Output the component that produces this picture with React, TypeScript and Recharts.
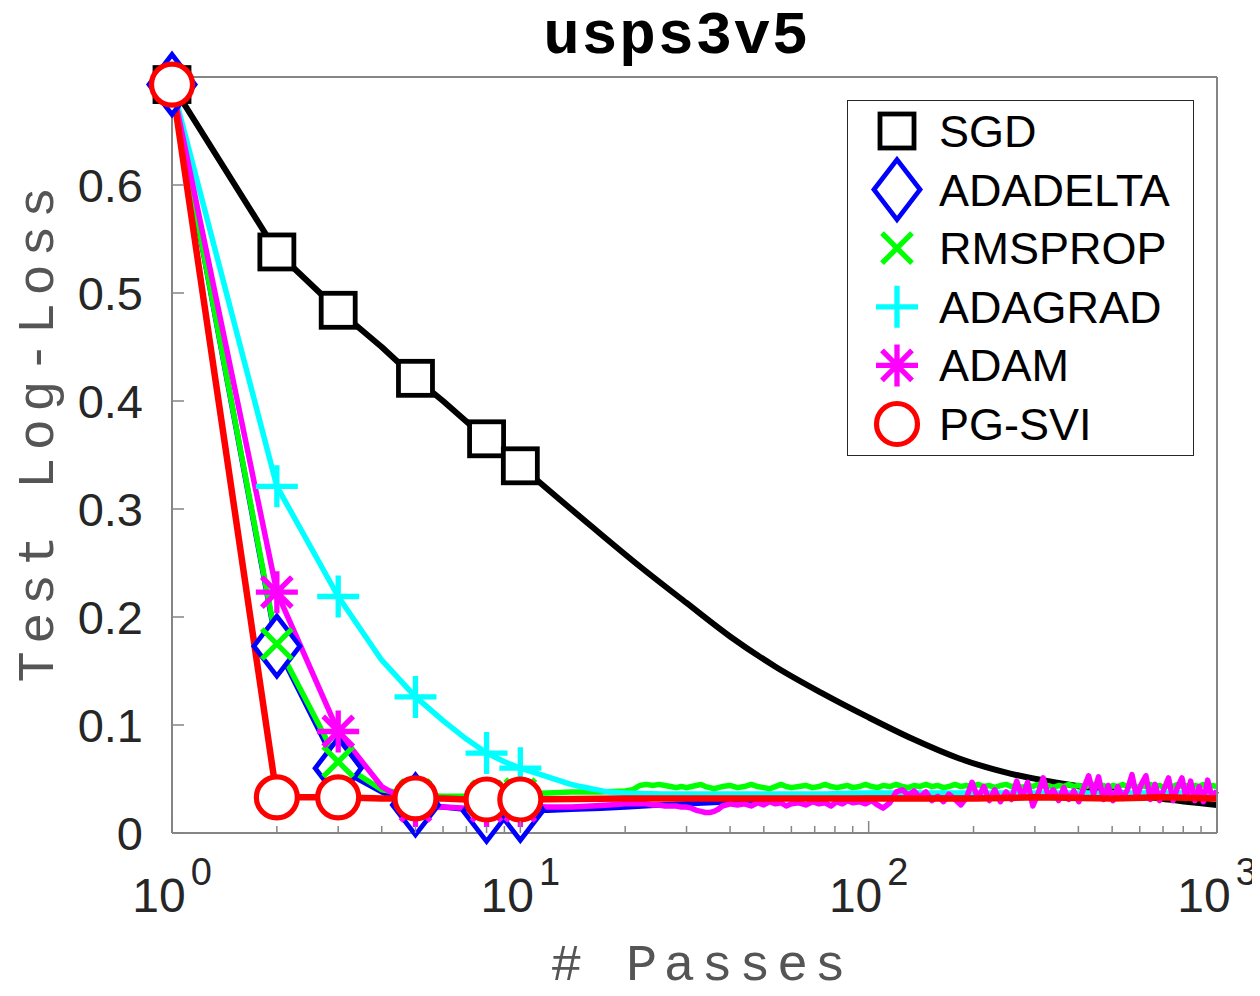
import React from 'react';
import { LineChart, Line, XAxis, YAxis, Legend } from 'recharts';

// ---------- data ----------
const MARKER_PASSES = [1, 2, 3, 5, 8, 10];
const X_MAJOR = [1, 10, 100, 1000];
const X_MINOR = [2, 3, 4, 5, 6, 7, 8, 9, 20, 30, 40, 50, 60, 70, 80, 90, 200, 300, 400, 500, 600, 700, 800, 900];
const Y_TICKS = [0, 0.1, 0.2, 0.3, 0.4, 0.5, 0.6];

// SGD: passes 1..10 (with markers), then smooth decay to 1000
const SGD_HEAD_X = [1, 2, 3, 4, 5, 6, 7, 8, 9, 10];
const SGD_HEAD_Y = [0.693, 0.538, 0.484, 0.45, 0.421, 0.4, 0.381, 0.365, 0.352, 0.34];
const SGD_TAIL_X = [10, 16, 22, 30, 40, 54, 73, 100, 134, 182, 255, 354, 493, 687, 1000];
const SGD_TAIL_Y = [0.34, 0.284, 0.247, 0.213, 0.182, 0.154, 0.13, 0.107, 0.087, 0.069, 0.055, 0.046, 0.039, 0.032, 0.026];

const ADADELTA_X = [1, 2, 3, 4, 5, 6, 7, 8, 9, 10, 12, 14, 17, 20, 25, 30, 40, 50, 60, 70, 80, 100, 150, 200, 300, 500, 700, 1000];
const ADADELTA_Y = [0.693, 0.173, 0.06, 0.038, 0.026, 0.024, 0.022, 0.02, 0.02, 0.021, 0.021, 0.022, 0.023, 0.024, 0.026, 0.027, 0.029, 0.031, 0.033, 0.034, 0.035, 0.035, 0.035, 0.034, 0.035, 0.035, 0.034, 0.035];

const TAIL_PASSES = [
  22, 23, 24, 25, 26, 27, 28, 29, 30, 31,
  32, 33, 34, 35, 36, 37, 38, 40, 42, 44,
  46, 48, 50, 52, 54, 56, 58, 60, 63, 66,
  69, 72, 75, 78, 81, 84, 87, 90, 94, 98,
  102, 106, 110, 115, 120, 125, 130, 135, 140, 146,
  152, 158, 164, 170, 177, 184, 191, 198, 206, 214,
  222, 230, 239, 248, 257, 266, 276, 286, 296, 306,
  317, 328, 339, 351, 363, 375, 388, 401, 414, 428,
  442, 457, 472, 487, 503, 519, 536, 553, 570, 588,
  606, 625, 644, 664, 684, 705, 726, 748, 770, 793,
  816, 840, 864, 889, 914, 940, 967, 1000,
];

const RMSPROP_HEAD_X = [1, 2, 3, 4, 5, 6, 7, 8, 9, 10, 12, 14, 17, 20, 21];
const RMSPROP_HEAD_Y = [0.693, 0.175, 0.066, 0.04, 0.035, 0.034, 0.034, 0.034, 0.035, 0.036, 0.037, 0.038, 0.038, 0.039, 0.04];
const RMSPROP_TAIL_Y = [
  0.044, 0.045, 0.044, 0.045, 0.044, 0.043, 0.042, 0.043, 0.042, 0.043,
  0.044, 0.045, 0.043, 0.042, 0.041, 0.042, 0.043, 0.044, 0.042, 0.043,
  0.045, 0.043, 0.042, 0.041, 0.043, 0.045, 0.043, 0.042, 0.043, 0.044,
  0.042, 0.043, 0.045, 0.043, 0.042, 0.043, 0.044, 0.042, 0.043, 0.045,
  0.043, 0.042, 0.044, 0.043, 0.045, 0.043, 0.042, 0.044, 0.043, 0.045,
  0.043, 0.044, 0.042, 0.043, 0.045, 0.043, 0.044, 0.043, 0.045, 0.043,
  0.044, 0.042, 0.044, 0.045, 0.043, 0.044, 0.042, 0.044, 0.043, 0.045,
  0.043, 0.044, 0.042, 0.044, 0.043, 0.045, 0.043, 0.044, 0.042, 0.044,
  0.045, 0.043, 0.044, 0.042, 0.044, 0.043, 0.045, 0.043, 0.044, 0.042,
  0.044, 0.043, 0.045, 0.043, 0.044, 0.042, 0.044, 0.043, 0.045, 0.043,
  0.044, 0.042, 0.044, 0.043, 0.045, 0.043, 0.044, 0.043,
];

const ADAGRAD_HEAD_X = [1, 2, 3, 4, 5, 6, 7, 8, 9, 10];
const ADAGRAD_HEAD_Y = [0.693, 0.321, 0.219, 0.16, 0.126, 0.104, 0.087, 0.074, 0.066, 0.06];
const ADAGRAD_TAIL_X = [10, 12, 14, 16, 18, 22, 30, 40, 70, 100, 200, 500, 1000];
const ADAGRAD_TAIL_Y = [0.06, 0.052, 0.045, 0.041, 0.038, 0.0365, 0.036, 0.036, 0.036, 0.037, 0.037, 0.037, 0.037];

const ADAM_HEAD_X = [1, 2, 3, 4, 5, 6, 7, 8, 9, 10, 12, 14, 16, 18, 20];
const ADAM_HEAD_Y = [0.693, 0.223, 0.094, 0.043, 0.025, 0.024, 0.023, 0.025, 0.025, 0.025, 0.024, 0.024, 0.025, 0.026, 0.027];
const ADAM_TAIL_Y = [
  0.027, 0.027, 0.026, 0.026, 0.025, 0.025, 0.025, 0.024, 0.024, 0.023,
  0.021, 0.02, 0.019, 0.019, 0.02, 0.022, 0.025, 0.027, 0.026, 0.027,
  0.025, 0.028, 0.026, 0.029, 0.027, 0.028, 0.025, 0.027, 0.028, 0.026,
  0.029, 0.027, 0.028, 0.025, 0.029, 0.027, 0.03, 0.028, 0.029, 0.027,
  0.03, 0.026, 0.023, 0.028, 0.038, 0.04, 0.035, 0.039, 0.033, 0.038,
  0.03, 0.034, 0.029, 0.036, 0.031, 0.026, 0.033, 0.047, 0.032, 0.043,
  0.03, 0.04, 0.029, 0.038, 0.031, 0.048, 0.033, 0.047, 0.025, 0.036,
  0.051, 0.034, 0.04, 0.03, 0.042, 0.031, 0.039, 0.029, 0.041, 0.053,
  0.036, 0.052, 0.031, 0.044, 0.03, 0.043, 0.032, 0.04, 0.054, 0.033,
  0.045, 0.053, 0.031, 0.045, 0.03, 0.041, 0.051, 0.03, 0.042, 0.051,
  0.032, 0.048, 0.03, 0.043, 0.029, 0.049, 0.033, 0.039,
];

const PGSVI_X = [1, 2, 3, 4, 5, 6, 7, 8, 9, 10, 20, 50, 100, 200, 300, 500, 700, 1000];
const PGSVI_Y = [0.693, 0.033, 0.033, 0.032, 0.032, 0.032, 0.031, 0.031, 0.031, 0.031, 0.032, 0.032, 0.032, 0.032, 0.033, 0.032, 0.033, 0.032];

// ---------- helpers ----------
const build = (xs: number[], ys: number[], withMarkers = true) =>
  xs.map((x, i) => ({ x, y: ys[i], m: withMarkers && MARKER_PASSES.includes(x) }));

type MarkerKind = 'square' | 'diamond' | 'x' | 'plus' | 'star' | 'circle';

type Series = { name: string; color: string; marker: MarkerKind; width: number; data: any[]; tail?: any[] };

const SERIES: Series[] = [
  { name: 'SGD', color: '#000000', marker: 'square', width: 6, data: build(SGD_HEAD_X, SGD_HEAD_Y), tail: build(SGD_TAIL_X, SGD_TAIL_Y, false) },
  { name: 'ADADELTA', color: '#0000ff', marker: 'diamond', width: 5.5, data: build(ADADELTA_X, ADADELTA_Y) },
  { name: 'RMSPROP', color: '#00ff00', marker: 'x', width: 5.5, data: build(RMSPROP_HEAD_X.concat(TAIL_PASSES), RMSPROP_HEAD_Y.concat(RMSPROP_TAIL_Y)) },
  { name: 'ADAGRAD', color: '#00ffff', marker: 'plus', width: 5.5, data: build(ADAGRAD_HEAD_X, ADAGRAD_HEAD_Y), tail: build(ADAGRAD_TAIL_X, ADAGRAD_TAIL_Y, false) },
  { name: 'ADAM', color: '#ff00ff', marker: 'star', width: 5.5, data: build(ADAM_HEAD_X.concat(TAIL_PASSES), ADAM_HEAD_Y.concat(ADAM_TAIL_Y)) },
  { name: 'PG-SVI', color: '#ff0000', marker: 'circle', width: 6.5, data: build(PGSVI_X, PGSVI_Y) },
];

const AXIS_COLOR = '#858585';
const TICK_TEXT = '#262626';
const LABEL_COLOR = '#555555';
const SANS = '"Liberation Sans", Arial, sans-serif';
const MONO = '"Liberation Mono", "Courier New", monospace';

function Marker({ kind, cx, cy, color }: { kind: MarkerKind; cx: number; cy: number; color: string }) {
  const sw = 4.8;
  switch (kind) {
    case 'square':
      return <rect x={cx - 17} y={cy - 17} width={34} height={34} fill="#fff" stroke={color} strokeWidth={sw} />;
    case 'diamond':
      return (
        <path d={`M${cx},${cy - 30} L${cx + 23},${cy} L${cx},${cy + 30} L${cx - 23},${cy} Z`} fill="#fff" stroke={color} strokeWidth={sw} strokeLinejoin="miter" />
      );
    case 'x':
      return (
        <path d={`M${cx - 15},${cy - 15} L${cx + 15},${cy + 15} M${cx - 15},${cy + 15} L${cx + 15},${cy - 15}`} stroke={color} strokeWidth={sw + 0.5} fill="none" />
      );
    case 'plus':
      return (
        <path d={`M${cx - 21},${cy} L${cx + 21},${cy} M${cx},${cy - 21} L${cx},${cy + 21}`} stroke={color} strokeWidth={sw + 0.5} fill="none" />
      );
    case 'star':
      return (
        <path
          d={`M${cx - 21},${cy} L${cx + 21},${cy} M${cx},${cy - 21} L${cx},${cy + 21} M${cx - 15},${cy - 15} L${cx + 15},${cy + 15} M${cx - 15},${cy + 15} L${cx + 15},${cy - 15}`}
          stroke={color}
          strokeWidth={sw + 0.5}
          fill="none"
        />
      );
    case 'circle':
    default:
      return <circle cx={cx} cy={cy} r={20.5} fill="#fff" stroke={color} strokeWidth={sw + 0.4} />;
  }
}

const makeDot = (kind: MarkerKind, color: string) => (props: any) => {
  const { cx, cy, payload, index } = props;
  if (!payload || !payload.m || cx == null || cy == null) return <g key={`d-${index}`} />;
  return (
    <g key={`d-${index}`}>
      <Marker kind={kind} cx={cx} cy={cy} color={color} />
    </g>
  );
};

// ---------- axis tick renderers ----------
const BottomTick = (props: any) => {
  const { x, y, payload } = props;
  const v = payload.value;
  const major = X_MAJOR.includes(v);
  const exp = Math.round(Math.log10(v));
  return (
    <g>
      <line x1={x} x2={x} y1={y} y2={y - (major ? 12 : 7)} stroke={AXIS_COLOR} strokeWidth={1.5} />
      {major && (
        <text x={x} y={y + 79} textAnchor="middle" fontFamily={SANS} fontSize={48} fill={TICK_TEXT}>
          10
          <tspan dx={5} dy={-27} fontSize={38}>
            {exp}
          </tspan>
        </text>
      )}
    </g>
  );
};

const TopTick = (props: any) => {
  const { x, y, payload } = props;
  const major = X_MAJOR.includes(payload.value);
  return <line x1={x} x2={x} y1={y} y2={y + (major ? 12 : 7)} stroke={AXIS_COLOR} strokeWidth={1.5} />;
};

const LeftTick = (props: any) => {
  const { x, y, payload } = props;
  const v = payload.value;
  return (
    <g>
      <line x1={x} x2={x + 12} y1={y} y2={y} stroke={AXIS_COLOR} strokeWidth={1.5} />
      <text x={x - 29} y={y + 17} textAnchor="end" fontFamily={SANS} fontSize={47} fill={TICK_TEXT}>
        {v === 0 ? '0' : v.toFixed(1)}
      </text>
    </g>
  );
};

const RightTick = (props: any) => {
  const { x, y } = props;
  return <line x1={x} x2={x - 12} y1={y} y2={y} stroke={AXIS_COLOR} strokeWidth={1.5} />;
};

// ---------- labels ----------
const TitleLabel = (props: any) => {
  const vb = props.viewBox || {};
  return (
    <text x={vb.x + vb.width / 2 - 18} y={vb.y + vb.height - 24} textAnchor="middle" fontFamily={MONO} fontWeight="bold" fontSize={61} letterSpacing={1.5} fill="#000">
      usps3v5
    </text>
  );
};

const XLabel = (props: any) => {
  const vb = props.viewBox || {};
  return (
    <text x={vb.x + vb.width / 2 + 7} y={vb.y + 147} textAnchor="middle" fontFamily={MONO} fontSize={52} letterSpacing={6.5} fill={LABEL_COLOR}>
      # Passes
    </text>
  );
};

const YLabel = (props: any) => {
  const vb = props.viewBox || {};
  const cx = vb.x - 19;
  const cy = vb.y + vb.height / 2 - 24;
  return (
    <text x={cx} y={cy} transform={`rotate(-90, ${cx}, ${cy})`} textAnchor="middle" fontFamily={MONO} fontSize={52} letterSpacing={7.5} fill={LABEL_COLOR}>
      Test Log-Loss
    </text>
  );
};

// ---------- legend ----------
const LegendBox = () => {
  return (
    <svg width={348} height={357} style={{ display: 'block' }}>
      <rect x={0.5} y={0.5} width={346} height={355} fill="#fff" stroke="#262626" strokeWidth={1} />
      {SERIES.map((s, i) => {
        const cy = 31 + i * 58.6;
        return (
          <g key={s.name}>
            <Marker kind={s.marker} cx={50} cy={cy} color={s.color} />
            <text x={92} y={cy + 16} fontFamily={SANS} fontSize={45} fill="#000">
              {s.name}
            </text>
          </g>
        );
      })}
    </svg>
  );
};

const ALL_X_TICKS = [...X_MAJOR, ...X_MINOR].sort((a, b) => a - b);

export default function App() {
  const lines: React.ReactNode[] = [];
  SERIES.forEach((s) => {
    if (s.tail) {
      lines.push(
        <Line
          key={`${s.name}-tail`}
          xAxisId="main"
          yAxisId="main"
          data={s.tail}
          dataKey="y"
          name={`${s.name} (tail)`}
          type="monotoneX"
          stroke={s.color}
          strokeWidth={s.width}
          dot={false}
          activeDot={false}
          legendType="none"
          isAnimationActive={false}
        />
      );
    }
    lines.push(
      <Line
        key={s.name}
        xAxisId="main"
        yAxisId="main"
        data={s.data}
        dataKey="y"
        name={s.name}
        type="linear"
        stroke={s.color}
        strokeWidth={s.width}
        strokeLinejoin="round"
        dot={makeDot(s.marker, s.color)}
        activeDot={false}
        legendType="line"
        isAnimationActive={false}
      />
    );
  });

  return (
    <div style={{ marginTop: -8, marginLeft: -8, width: 1260, height: 996 }}>
      <LineChart width={1260} height={996} margin={{ top: 76, right: 42, bottom: 103, left: 72 }}>
        <XAxis
          xAxisId="main"
          dataKey="x"
          type="number"
          scale="log"
          domain={[1, 1000]}
          ticks={ALL_X_TICKS}
          interval={0}
          tickSize={0}
          tickMargin={0}
          tickLine={false}
          axisLine={{ stroke: AXIS_COLOR, strokeWidth: 2 }}
          tick={<BottomTick />}
          height={60}
          label={{ content: <XLabel /> }}
        />
        <XAxis
          xAxisId="top"
          orientation="top"
          dataKey="x"
          type="number"
          scale="log"
          domain={[1, 1000]}
          ticks={ALL_X_TICKS}
          interval={0}
          tickSize={0}
          tickMargin={0}
          tickLine={false}
          axisLine={{ stroke: AXIS_COLOR, strokeWidth: 2 }}
          tick={<TopTick />}
          height={1}
          label={{ content: <TitleLabel /> }}
        />
        <YAxis
          yAxisId="main"
          type="number"
          domain={[0, 0.7]}
          ticks={Y_TICKS}
          interval={0}
          tickSize={0}
          tickMargin={0}
          tickLine={false}
          axisLine={{ stroke: AXIS_COLOR, strokeWidth: 2 }}
          tick={<LeftTick />}
          width={100}
          label={{ content: <YLabel /> }}
        />
        <YAxis
          yAxisId="right"
          orientation="right"
          type="number"
          domain={[0, 0.7]}
          ticks={Y_TICKS}
          interval={0}
          tickSize={0}
          tickMargin={0}
          tickLine={false}
          axisLine={{ stroke: AXIS_COLOR, strokeWidth: 2 }}
          tick={<RightTick />}
          width={1}
        />
        {lines}
        <Legend
          layout="vertical"
          align="center"
          verticalAlign="middle"
          content={<LegendBox />}
          wrapperStyle={{ position: 'absolute', left: 847, top: 100, width: 348, height: 357 }}
        />
      </LineChart>
    </div>
  );
}
